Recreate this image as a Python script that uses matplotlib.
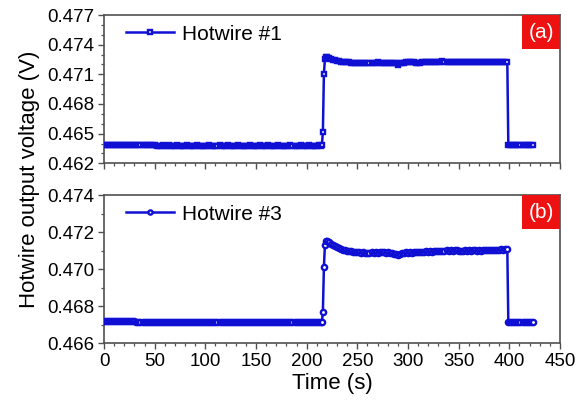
import matplotlib
matplotlib.use("Agg")
import matplotlib.pyplot as plt
from matplotlib.ticker import MultipleLocator, FormatStrFormatter
from matplotlib.patches import Rectangle

plt.rcParams['font.family'] = ['Liberation Sans', 'DejaVu Sans']

# ---------------- data ----------------
time_s = [
    0, 2, 4, 6, 8, 10, 12, 14, 16, 18,
    20, 22, 24, 26, 28, 30, 32, 34, 36, 38,
    40, 42, 44, 46, 48, 50, 52, 54, 56, 58,
    60, 62, 64, 66, 68, 70, 72, 74, 76, 78,
    80, 82, 84, 86, 88, 90, 92, 94, 96, 98,
    100, 102, 104, 106, 108, 110, 112, 114, 116, 118,
    120, 122, 124, 126, 128, 130, 132, 134, 136, 138,
    140, 142, 144, 146, 148, 150, 152, 154, 156, 158,
    160, 162, 164, 166, 168, 170, 172, 174, 176, 178,
    180, 182, 184, 186, 188, 190, 192, 194, 196, 198,
    200, 202, 204, 206, 208, 210, 212, 214,
    215, 216, 217, 218, 219,
    220, 222, 224, 226, 228, 230, 232, 234, 236, 238,
    240, 242, 244, 246, 248, 250, 252, 254, 256, 258,
    260, 262, 264, 266, 268, 270, 272, 274, 276, 278,
    280, 282, 284, 286, 288, 290, 292, 294, 296, 298,
    300, 302, 304, 306, 308, 310, 312, 314, 316, 318,
    320, 322, 324, 326, 328, 330, 332, 334, 336, 338,
    340, 342, 344, 346, 348, 350, 352, 354, 356, 358,
    360, 362, 364, 366, 368, 370, 372, 374, 376, 378,
    380, 382, 384, 386, 388, 390, 392, 394, 396, 398,
    399, 401, 403, 405, 407, 409, 411, 413, 415, 417, 419, 421, 423,
]

hotwire1_V = [
    0.46386, 0.46386, 0.46385, 0.46386, 0.46386, 0.46387, 0.46386, 0.46386, 0.46385, 0.46386,
    0.46386, 0.46386, 0.46386, 0.46385, 0.46386, 0.46386, 0.46386, 0.46387, 0.46386, 0.46386,
    0.46386, 0.46385, 0.46386, 0.46386, 0.46386, 0.46381, 0.46380, 0.46380, 0.46380, 0.46381,
    0.46380, 0.46380, 0.46381, 0.46380, 0.46380, 0.46380, 0.46381, 0.46380, 0.46380, 0.46380,
    0.46380, 0.46381, 0.46380, 0.46380, 0.46380, 0.46380, 0.46381, 0.46380, 0.46380, 0.46380,
    0.46380, 0.46380, 0.46381, 0.46380, 0.46380, 0.46380, 0.46380, 0.46381, 0.46380, 0.46380,
    0.46380, 0.46381, 0.46380, 0.46380, 0.46380, 0.46380, 0.46381, 0.46380, 0.46380, 0.46380,
    0.46380, 0.46380, 0.46381, 0.46380, 0.46380, 0.46380, 0.46380, 0.46381, 0.46380, 0.46380,
    0.46380, 0.46381, 0.46380, 0.46380, 0.46380, 0.46380, 0.46381, 0.46380, 0.46380, 0.46380,
    0.46380, 0.46380, 0.46381, 0.46380, 0.46380, 0.46380, 0.46380, 0.46381, 0.46380, 0.46380,
    0.46380, 0.46381, 0.46380, 0.46380, 0.46380, 0.46380, 0.46381, 0.46380,
    0.46382, 0.46515, 0.47100, 0.47255, 0.47280,
    0.47276, 0.47266, 0.47256, 0.47247, 0.47240, 0.47235, 0.47231, 0.47228, 0.47226, 0.47224,
    0.47222, 0.47220, 0.47219, 0.47218, 0.47217, 0.47216, 0.47215, 0.47216, 0.47215, 0.47214,
    0.47215, 0.47216, 0.47215, 0.47217, 0.47218, 0.47220, 0.47219, 0.47218, 0.47217, 0.47216,
    0.47214, 0.47215, 0.47216, 0.47217, 0.47216, 0.47195, 0.47216, 0.47218, 0.47219, 0.47220,
    0.47221, 0.47222, 0.47221, 0.47220, 0.47219, 0.47218, 0.47219, 0.47220, 0.47221, 0.47222,
    0.47223, 0.47224, 0.47225, 0.47226, 0.47227, 0.47228, 0.47229, 0.47230, 0.47229, 0.47228,
    0.47227, 0.47226, 0.47225, 0.47224, 0.47223, 0.47222, 0.47222, 0.47223, 0.47224, 0.47225,
    0.47226, 0.47225, 0.47224, 0.47223, 0.47222, 0.47222, 0.47223, 0.47224, 0.47225, 0.47226,
    0.47226, 0.47227, 0.47226, 0.47225, 0.47226, 0.47227, 0.47228, 0.47228, 0.47229, 0.47229,
    0.46382, 0.46382, 0.46382, 0.46382, 0.46382, 0.46382, 0.46382, 0.46382, 0.46382, 0.46382,
    0.46382, 0.46382, 0.46382,
]

hotwire3_V = [
    0.46720, 0.46721, 0.46720, 0.46720, 0.46719, 0.46720, 0.46721, 0.46720, 0.46720, 0.46720,
    0.46720, 0.46719, 0.46720, 0.46721, 0.46720, 0.46720, 0.46714, 0.46714, 0.46715, 0.46714,
    0.46714, 0.46713, 0.46714, 0.46714, 0.46715, 0.46714, 0.46714, 0.46714, 0.46713, 0.46714,
    0.46714, 0.46715, 0.46714, 0.46714, 0.46714, 0.46713, 0.46714, 0.46714, 0.46715, 0.46714,
    0.46714, 0.46714, 0.46713, 0.46714, 0.46714, 0.46715, 0.46714, 0.46714, 0.46714, 0.46713,
    0.46714, 0.46714, 0.46715, 0.46714, 0.46714, 0.46714, 0.46713, 0.46714, 0.46714, 0.46715,
    0.46714, 0.46714, 0.46714, 0.46713, 0.46714, 0.46714, 0.46715, 0.46714, 0.46714, 0.46714,
    0.46713, 0.46714, 0.46714, 0.46715, 0.46714, 0.46714, 0.46714, 0.46713, 0.46714, 0.46714,
    0.46715, 0.46714, 0.46714, 0.46714, 0.46713, 0.46714, 0.46714, 0.46715, 0.46714, 0.46714,
    0.46714, 0.46713, 0.46714, 0.46714, 0.46715, 0.46714, 0.46714, 0.46714, 0.46713, 0.46714,
    0.46714, 0.46715, 0.46714, 0.46714, 0.46714, 0.46713, 0.46714, 0.46714,
    0.46713, 0.46770, 0.47010, 0.47130, 0.47150,
    0.47152, 0.47145, 0.47138, 0.47131, 0.47125, 0.47119, 0.47114, 0.47110, 0.47106, 0.47103,
    0.47100, 0.47098, 0.47096, 0.47094, 0.47092, 0.47091, 0.47090, 0.47088, 0.47090, 0.47087,
    0.47089, 0.47086, 0.47090, 0.47088, 0.47091, 0.47089, 0.47093, 0.47090, 0.47092, 0.47088,
    0.47090, 0.47086, 0.47088, 0.47084, 0.47082, 0.47074, 0.47083, 0.47088, 0.47086, 0.47090,
    0.47088, 0.47092, 0.47089, 0.47093, 0.47090, 0.47094, 0.47091, 0.47095, 0.47093, 0.47096,
    0.47094, 0.47097, 0.47095, 0.47098, 0.47096, 0.47099, 0.47097, 0.47100, 0.47098, 0.47101,
    0.47099, 0.47102, 0.47100, 0.47103, 0.47101, 0.47098, 0.47100, 0.47097, 0.47101, 0.47099,
    0.47102, 0.47100, 0.47103, 0.47101, 0.47099, 0.47102, 0.47100, 0.47103, 0.47104, 0.47102,
    0.47103, 0.47105, 0.47104, 0.47106, 0.47105, 0.47106, 0.47107, 0.47106, 0.47107, 0.47108,
    0.46713, 0.46713, 0.46713, 0.46713, 0.46713, 0.46713, 0.46713, 0.46713, 0.46713, 0.46713,
    0.46713, 0.46713, 0.46713,
]

series_labels = ["Hotwire #1", "Hotwire #3"]
panel_tags = ["(a)", "(b)"]
x_ticks = [0, 50, 100, 150, 200, 250, 300, 350, 400, 450]
y_ticks_a = [0.462, 0.465, 0.468, 0.471, 0.474, 0.477]
y_ticks_b = [0.466, 0.468, 0.470, 0.472, 0.474]

# ---------------- style ----------------
BLUE = '#1010d4'
SPINE = '#505050'
W, H = 587, 407
fig = plt.figure(figsize=(W / 100, H / 100), dpi=100)

def px_axes(l, t, r, b):
    return fig.add_axes([l / W, 1 - b / H, (r - l) / W, (b - t) / H])

ax_a = px_axes(104, 15, 560, 163.3)
ax_b = px_axes(104, 195, 560, 343.3)

configs = [
    (ax_a, hotwire1_V, 's', 3.4, y_ticks_a, False),
    (ax_b, hotwire3_V, 'o', 3.8, y_ticks_b, True),
]

for i, (ax, yv, mk, msz, yt, show_x) in enumerate(configs):
    ax.plot(time_s, yv, color=BLUE, lw=1.8, marker=mk, ms=msz,
            mfc='white', mec=BLUE, mew=1.7, label=series_labels[i], zorder=3)
    ax.set_xlim(0, 450)
    ax.set_ylim(yt[0], yt[-1])
    ax.set_xticks(x_ticks)
    ax.set_yticks(yt)
    ax.xaxis.set_minor_locator(MultipleLocator(10))
    ax.yaxis.set_minor_locator(MultipleLocator(0.001))
    ax.yaxis.set_major_formatter(FormatStrFormatter('%.3f'))
    ax.tick_params(which='major', direction='out', length=4, width=1.0, color=SPINE,
                   labelsize=13.5, pad=3, top=False, right=False)
    ax.tick_params(which='minor', direction='out', length=2.2, width=0.9, color=SPINE,
                   top=False, right=False)
    if not show_x:
        ax.tick_params(axis='x', which='both', labelbottom=False)
    for sp in ax.spines.values():
        sp.set_color(SPINE)
        sp.set_linewidth(1.2)
    ax.legend(loc='upper left', bbox_to_anchor=(0.049, 0.935), frameon=False,
              fontsize=15, handlelength=2.3, handletextpad=0.35, borderpad=0,
              borderaxespad=0, numpoints=1, markerscale=0.8)
    # red panel tag
    ax.add_patch(Rectangle((1 - 38 / 456, 1 - 34 / 148.3), 38 / 456, 34 / 148.3,
                           transform=ax.transAxes, facecolor='#ee1111', edgecolor='none',
                           zorder=5, clip_on=False))
    ax.text(1 - 19 / 456, 1 - 17.5 / 148.3, panel_tags[i], transform=ax.transAxes,
            color='white', fontsize=15, ha='center', va='center', zorder=6)

fig.text(30 / W, 1 - 179 / H, "Hotwire output voltage (V)", rotation=90,
         ha='center', va='center', fontsize=16)
fig.text(332 / W, 1 - 384 / H, "Time (s)", ha='center', va='center', fontsize=16)

fig.savefig("out.png", dpi=100)
